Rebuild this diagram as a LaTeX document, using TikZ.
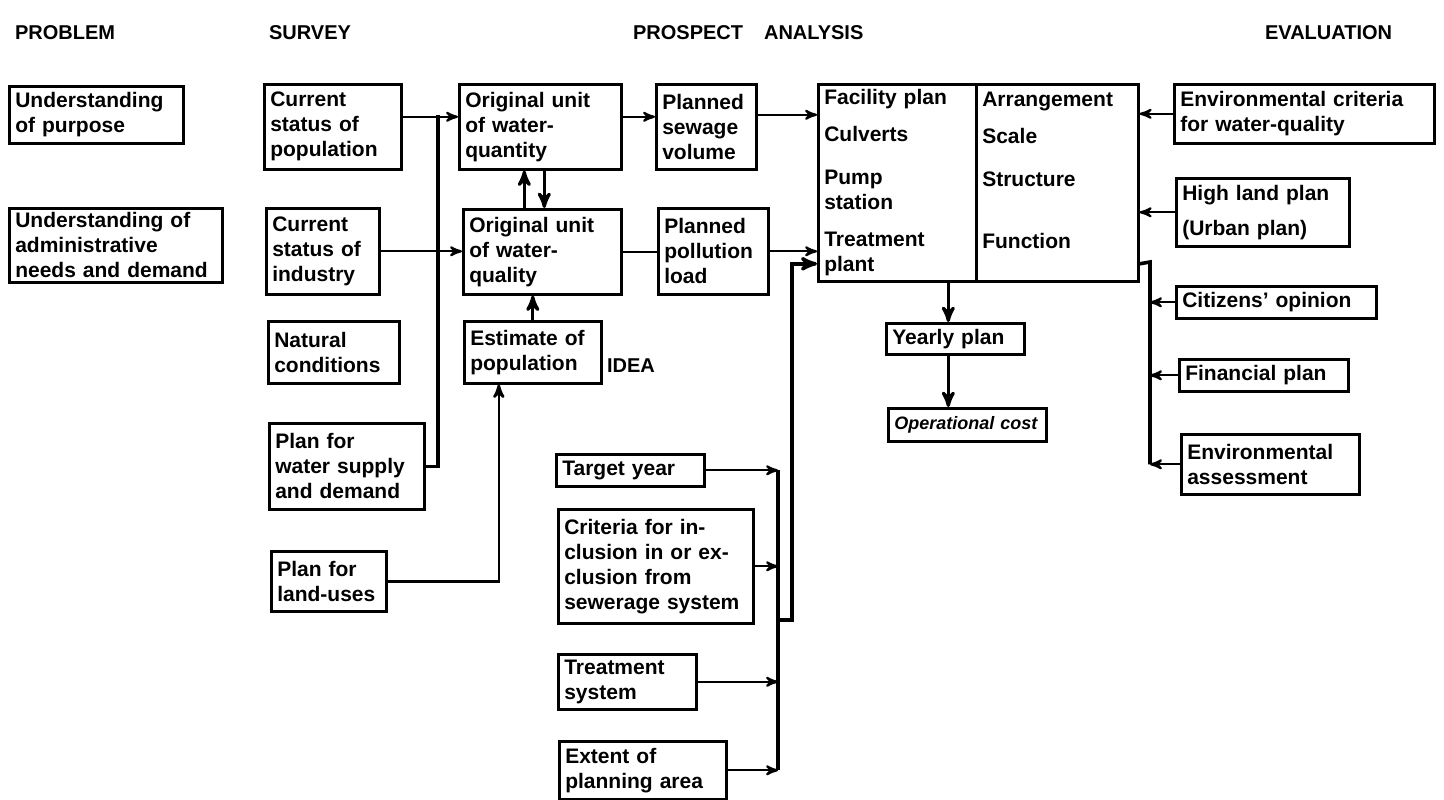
\documentclass[tikz,border=0pt]{standalone}
\usepackage{fontspec}
\setmainfont{Liberation Sans}
\usepackage{tikz}
\usetikzlibrary{arrows}

\begin{document}
\begin{tikzpicture}[x=0.5pt,y=-0.5pt,>=stealth',
  blk/.style={draw,line width=1.3pt,anchor=north west,align=left,
    inner xsep=3pt,inner ysep=2pt,font=\fontsize{10.5}{12.5}\selectfont\bfseries},
  hd/.style={anchor=west,font=\fontsize{10}{12}\selectfont\bfseries},
  arr/.style={->,line width=1.1pt},
  barr/.style={->,line width=1.6pt},
  bus/.style={line width=1.8pt}]
\useasboundingbox (0,0) rectangle (1444,799);

\node[hd] (hprob) at (8,33) {PROBLEM};
\node[hd] (hsurv) at (262,33) {SURVEY};
\node[hd] (hpros) at (626,33) {PROSPECT};
\node[hd] (hana) at (757,33) {ANALYSIS};
\node[hd] (heval) at (1258,33) {EVALUATION};
\node[hd] (hidea) at (600,366) {IDEA};

\node[blk,text width=81pt,minimum height=28.5pt] (purp) at (8,85) {Understanding\\of purpose};
\node[blk,text width=100.5pt,minimum height=37pt] (admin) at (8,207) {Understanding of\\administrative\\needs and demand};

\node[blk,text width=62.5pt,minimum height=42.5pt] (pop) at (263,83) {Current\\status of\\population};
\node[blk,text width=50.5pt,minimum height=43pt] (ind) at (265,207) {Current\\status of\\industry};
\node[blk,text width=59.5pt,minimum height=31pt] (nat) at (267,320) {Natural\\conditions};
\node[blk,text width=71.5pt,minimum height=43pt] (wsup) at (268,422) {Plan for\\water supply\\and demand};
\node[blk,text width=51.5pt,minimum height=30pt] (land) at (270,550) {Plan for\\land-uses};

\node[blk,text width=75pt,minimum height=42.5pt] (quan) at (458,83) {Original unit\\of water-\\quantity};
\node[blk,text width=73pt,minimum height=42.5pt] (qual) at (462,208) {Original unit\\of water-\\quality};
\node[blk,text width=62.5pt,minimum height=31pt] (est) at (463,320) {Estimate of\\population};

\node[blk,text width=44pt,minimum height=42.5pt] (sew) at (655,83) {Planned\\sewage\\volume};
\node[blk,text width=49pt,minimum height=43pt] (poll) at (657,207) {Planned\\pollution\\load};

\node[blk,text width=73pt,minimum height=98.5pt] (anaL) at (817,83) {Facility plan\\[6pt]Culverts\\[9pt]Pump\\station\\[6pt]Treatment\\plant};
\node[blk,text width=75pt,minimum height=98.5pt] (anaR) at (975,83) {Arrangement\\[6pt]Scale\\[9pt]Structure\\ \mbox{}\\[6pt]Function\\ \mbox{}};
\node[blk,text width=73pt,minimum height=16.5pt,font=\fontsize{9}{11}\selectfont\bfseries\itshape] (opc) at (887,407) {Operational cost};
\node[blk,text width=63pt,minimum height=15.5pt] (year) at (885,322) {Yearly plan};

\node[blk,text width=124pt,minimum height=29.5pt] (ecri) at (1173,83) {Environmental criteria\\for water-quality};
\node[blk,text width=80.5pt,minimum height=34pt] (hland) at (1175,177) {High land plan\\[5pt](Urban plan)};
\node[blk,text width=94pt,minimum height=16pt] (citz) at (1175,285) {Citizens' opinion};
\node[blk,text width=78.5pt,minimum height=16pt] (fin) at (1178,358) {Financial plan};
\node[blk,text width=83pt,minimum height=30pt] (eass) at (1180,433) {Environmental\\assessment};

\node[blk,text width=68pt,minimum height=16pt] (tyear) at (555,453) {Target year};
\node[blk,text width=91.5pt,minimum height=57pt] (crit) at (557,508) {Criteria for in-\\clusion in or ex-\\clusion from\\sewerage system};
\node[blk,text width=63pt,minimum height=27.5pt] (tsys) at (557,653) {Treatment\\system};
\node[blk,text width=77.5pt,minimum height=29pt] (ext) at (558,740) {Extent of\\planning area};

\coordinate (wj) at (438,115);
\coordinate (ib) at (778,620);
\coordinate (eb) at (1150,262);

\draw[arr] ([yshift=5pt]pop.east) -- ([yshift=5pt]pop.east -| quan.west);
\draw[arr] (ind.east) -- (ind.east -| qual.west);
\draw[bus] (wsup.east) -| (wj);
\draw[barr] ([xshift=-9pt]qual.north) -- ([xshift=-9pt]qual.north |- quan.south);
\draw[barr] ([xshift=2pt]quan.south) -- ([xshift=2pt]quan.south |- qual.north);
\draw[barr] (est.north) -- (est.north |- qual.south);
\draw[arr,line width=1.3pt] (land.east) -| ([xshift=-17pt]est.south);

\draw[arr] ([yshift=5pt]quan.east) -- ([yshift=5pt]quan.east -| sew.west);
\draw[line width=1.1pt] (qual.east) -- (qual.east -| poll.west);
\draw[arr] ([yshift=6pt]sew.east) -- ([yshift=6pt]sew.east -| anaL.west);
\draw[arr] (poll.east) -- (poll.east -| anaL.west);

\draw[arr] (tyear.east) -- (tyear.east -| ib);
\draw[arr] (crit.east) -- (crit.east -| ib);
\draw[arr] (tsys.east) -- (tsys.east -| ib);
\draw[arr] (ext.east) -- (ext.east -| ib);
\draw[bus] (tyear.east -| ib) -- (ext.east -| ib);
\draw[->,line width=1.7pt] (ib) -- ++(14,0) |- ([yshift=-40.5pt]anaL.west);

\draw[barr] ([xshift=-3.5pt]year.north |- anaL.south) -- ([xshift=-3.5pt]year.north);
\draw[barr] ([xshift=-3.5pt]year.south) -- ([xshift=-3.5pt]year.south |- opc.north);

\draw[arr] (ecri.west) -- (ecri.west -| anaR.east);
\draw[arr] (hland.west) -- (hland.west -| anaR.east);
\draw[bus] ([yshift=-40.5pt]anaR.east) -- (eb) -- (eb |- eass.west);
\draw[arr] (citz.west) -- (citz.west -| eb);
\draw[arr] (fin.west) -- (fin.west -| eb);
\draw[arr] (eass.west) -- (eass.west -| eb);
\end{tikzpicture}
\end{document}
